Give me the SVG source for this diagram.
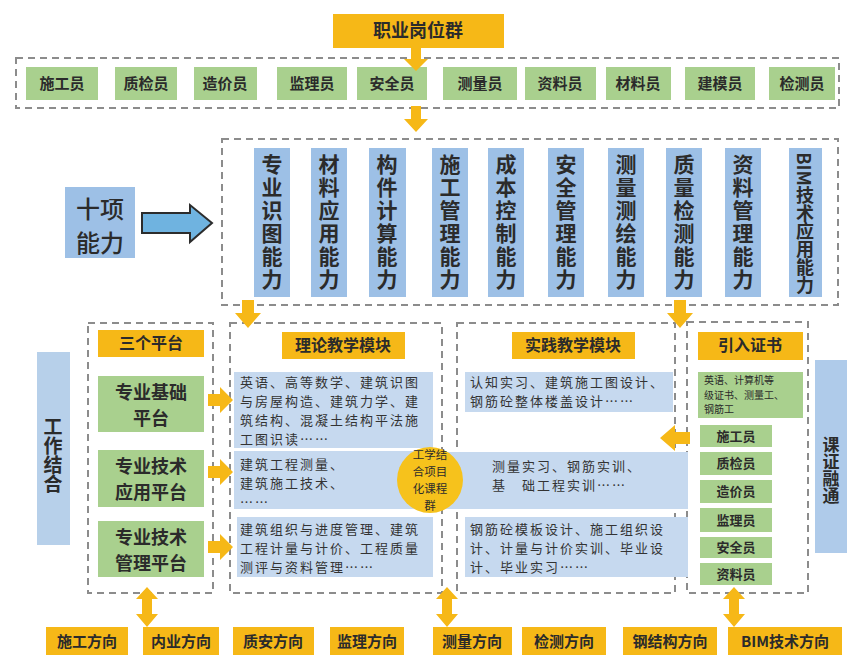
<svg xmlns="http://www.w3.org/2000/svg" width="849" height="659" viewBox="0 0 849 659">
<style>
text{font-family:"Noto Sans CJK SC","Noto Sans",sans-serif;fill:#2b2b2b}
.dash{fill:none;stroke:#8c8c8c;stroke-width:2;stroke-dasharray:7 5}
.org{fill:#F6B817}
.grn{fill:#A9D08E}
.blu{fill:#9DC0E6}
.lblu{fill:#C6D9EF}
.t15{font-size:15px;font-weight:700;text-anchor:middle}
.t16{font-size:16px;font-weight:700;text-anchor:middle}
.t19{font-size:18px;font-weight:700;text-anchor:middle}
.tb{font-size:13px;text-anchor:start;fill:#333;letter-spacing:2px}
.vt{writing-mode:vertical-rl;text-anchor:middle;font-weight:700}
.arr{fill:#F6B817}
</style>
<rect width="849" height="659" fill="#ffffff"/>

<!-- dashed containers -->
<g id="containers">
<rect class="dash" x="16" y="58" width="823" height="50"/>
<rect class="dash" x="222" y="139" width="616" height="166"/>
<rect class="dash" x="88" y="323" width="125" height="270"/>
<rect class="dash" x="230" y="323" width="212" height="270"/>
<rect class="dash" x="457" y="323" width="218" height="270"/>
<rect class="dash" x="687" y="322" width="121" height="271"/>
</g>

<g id="title">
<rect class="org" x="333" y="14" width="171" height="34"/>
<text class="t16" x="418" y="37" style="font-size:18px">职业岗位群</text>
</g>

<g id="occupations">
<rect class="grn" x="26" y="67" width="72" height="33"/><text class="t15" x="62" y="89">施工员</text>
<rect class="grn" x="115" y="67" width="62" height="33"/><text class="t15" x="146" y="89">质检员</text>
<rect class="grn" x="194" y="67" width="63" height="33"/><text class="t15" x="225" y="89">造价员</text>
<rect class="grn" x="277" y="67" width="70" height="33"/><text class="t15" x="312" y="89">监理员</text>
<rect class="grn" x="357" y="67" width="70" height="33"/><text class="t15" x="392" y="89">安全员</text>
<rect class="grn" x="443" y="67" width="74" height="33"/><text class="t15" x="480" y="89">测量员</text>
<rect class="grn" x="525" y="67" width="71" height="33"/><text class="t15" x="560" y="89">资料员</text>
<rect class="grn" x="606" y="67" width="65" height="33"/><text class="t15" x="638" y="89">材料员</text>
<rect class="grn" x="685" y="67" width="70" height="33"/><text class="t15" x="720" y="89">建模员</text>
<rect class="grn" x="769" y="67" width="66" height="33"/><text class="t15" x="802" y="89">检测员</text>
</g>

<g id="ten-abilities">
<rect class="blu" x="65" y="187" width="70" height="71"/>
<text x="100" y="218" style="font-size:24px;text-anchor:middle;font-weight:500">十项</text>
<text x="100" y="252" style="font-size:24px;text-anchor:middle;font-weight:500">能力</text>
</g>

<g id="abilities">
<rect class="blu" x="254" y="148" width="36" height="149"/><text class="vt" x="272" y="223" style="font-size:21px;letter-spacing:2px">专业识图能力</text>
<rect class="blu" x="311" y="148" width="36" height="149"/><text class="vt" x="329" y="223" style="font-size:21px;letter-spacing:2px">材料应用能力</text>
<rect class="blu" x="369" y="148" width="37" height="149"/><text class="vt" x="387" y="223" style="font-size:21px;letter-spacing:2px">构件计算能力</text>
<rect class="blu" x="432" y="148" width="36" height="149"/><text class="vt" x="450" y="223" style="font-size:21px;letter-spacing:2px">施工管理能力</text>
<rect class="blu" x="488" y="148" width="36" height="149"/><text class="vt" x="506" y="223" style="font-size:21px;letter-spacing:2px">成本控制能力</text>
<rect class="blu" x="548" y="148" width="36" height="149"/><text class="vt" x="566" y="223" style="font-size:21px;letter-spacing:2px">安全管理能力</text>
<rect class="blu" x="608" y="148" width="36" height="149"/><text class="vt" x="626" y="223" style="font-size:21px;letter-spacing:2px">测量测绘能力</text>
<rect class="blu" x="666" y="148" width="36" height="149"/><text class="vt" x="684" y="223" style="font-size:21px;letter-spacing:2px">质量检测能力</text>
<rect class="blu" x="725" y="148" width="36" height="149"/><text class="vt" x="743" y="223" style="font-size:21px;letter-spacing:2px">资料管理能力</text>
<rect class="blu" x="789" y="148" width="33" height="149"/><text class="vt" x="805" y="223" style="font-size:18px">BIM技术应用能力</text>
</g>

<g id="work-combine">
<rect fill="#B7D0EA" x="37" y="352" width="33" height="193"/>
<text class="vt" x="53" y="455" style="font-size:19px">工作结合</text>
</g>

<g id="platforms">
<rect class="org" x="98" y="330" width="106" height="27"/><text class="t16" x="151" y="349">三个平台</text>
<rect class="grn" x="98" y="376" width="106" height="56"/><text class="t19" x="151" y="399">专业基础</text><text class="t19" x="151" y="425">平台</text>
<rect class="grn" x="98" y="450" width="106" height="57"/><text class="t19" x="151" y="473">专业技术</text><text class="t19" x="151" y="499">应用平台</text>
<rect class="grn" x="98" y="521" width="106" height="56"/><text class="t19" x="151" y="544">专业技术</text><text class="t19" x="151" y="570">管理平台</text>
</g>

<g id="theory">
<rect class="org" x="282" y="332" width="123" height="27"/><text class="t16" x="343" y="351">理论教学模块</text>
<rect class="lblu" x="234" y="372" width="199" height="76"/>
<text class="tb" x="240" y="387">英语、高等数学、建筑识图</text>
<text class="tb" x="240" y="406">与房屋构造、建筑力学、建</text>
<text class="tb" x="240" y="425">筑结构、混凝土结构平法施</text>
<text class="tb" x="240" y="444">工图识读……</text>
<rect class="lblu" x="234" y="451" width="210" height="58"/>
<text class="tb" x="240" y="469">建筑工程测量、</text>
<text class="tb" x="240" y="488">建筑施工技术、</text>
<text class="tb" x="240" y="507">……</text>
<rect class="lblu" x="237" y="517" width="196" height="60"/>
<text class="tb" x="240" y="534">建筑组织与进度管理、建筑</text>
<text class="tb" x="240" y="553">工程计量与计价、工程质量</text>
<text class="tb" x="240" y="572">测评与资料管理……</text>
</g>

<g id="practice">
<rect class="org" x="512" y="332" width="123" height="27"/><text class="t16" x="573" y="351">实践教学模块</text>
<rect class="lblu" x="465" y="372" width="208" height="40"/>
<text class="tb" x="470" y="387">认知实习、建筑施工图设计、</text>
<text class="tb" x="470" y="406">钢筋砼整体楼盖设计……</text>
<rect class="lblu" x="444" y="452" width="244" height="57"/>
<text class="tb" x="492" y="471">测量实习、钢筋实训、</text>
<text class="tb" x="492" y="490">基　础工程实训……</text>
<rect class="lblu" x="465" y="517" width="223" height="60"/>
<text class="tb" x="470" y="534">钢筋砼模板设计、施工组织设</text>
<text class="tb" x="470" y="553">计、计量与计价实训、毕业设</text>
<text class="tb" x="470" y="572">计、毕业实习……</text>
</g>

<g id="course-group">
<circle cx="430" cy="480" r="33" fill="#F6C21C"/>
<text x="430" y="459" style="font-size:11.5px;text-anchor:middle">工学结</text>
<text x="430" y="476" style="font-size:11.5px;text-anchor:middle">合项目</text>
<text x="430" y="493" style="font-size:11.5px;text-anchor:middle">化课程</text>
<text x="430" y="510" style="font-size:11.5px;text-anchor:middle">群</text>
</g>

<g id="certificates">
<rect class="org" x="698" y="332" width="105" height="28"/><text class="t16" x="750" y="351">引入证书</text>
<rect class="grn" x="698" y="372" width="105" height="46"/>
<text x="704" y="384" style="font-size:10px">英语、计算机等</text>
<text x="704" y="398.5" style="font-size:10px">级证书、测量工、</text>
<text x="704" y="413" style="font-size:10px">钢筋工</text>
<rect class="grn" x="700" y="425" width="72" height="22"/><text class="t15" x="736" y="441" style="font-size:13px">施工员</text>
<rect class="grn" x="700" y="452" width="72" height="23"/><text class="t15" x="736" y="468" style="font-size:13px">质检员</text>
<rect class="grn" x="700" y="480" width="72" height="23"/><text class="t15" x="736" y="496" style="font-size:13px">造价员</text>
<rect class="grn" x="700" y="508" width="72" height="24"/><text class="t15" x="736" y="525" style="font-size:13px">监理员</text>
<rect class="grn" x="700" y="537" width="72" height="21"/><text class="t15" x="736" y="552" style="font-size:13px">安全员</text>
<rect class="grn" x="700" y="563" width="72" height="22"/><text class="t15" x="736" y="579" style="font-size:13px">资料员</text>
</g>

<g id="course-cert">
<rect fill="#AFCBEA" x="815" y="360" width="32" height="193"/>
<text class="vt" x="831" y="470" style="font-size:17px">课证融通</text>
</g>

<g id="directions">
<rect class="org" x="46" y="627" width="82" height="28"/><text class="t15" x="87" y="647">施工方向</text>
<rect class="org" x="143" y="627" width="76" height="28"/><text class="t15" x="181" y="647">内业方向</text>
<rect class="org" x="233" y="627" width="81" height="28"/><text class="t15" x="273" y="647">质安方向</text>
<rect class="org" x="330" y="627" width="74" height="28"/><text class="t15" x="367" y="647">监理方向</text>
<rect class="org" x="433" y="627" width="79" height="28"/><text class="t15" x="472" y="647">测量方向</text>
<rect class="org" x="522" y="627" width="84" height="28"/><text class="t15" x="564" y="647">检测方向</text>
<rect class="org" x="623" y="627" width="94" height="28"/><text class="t15" x="670" y="647">钢结构方向</text>
<rect class="org" x="728" y="627" width="114" height="28"/><text class="t15" x="785" y="647">BIM技术方向</text>
</g>

<g id="connectors">
<polygon class="arr" points="411,48 421,48 421,59 428,59 416,71 404,59 411,59"/>
<polygon class="arr" points="411,106 421,106 421,119 428,119 416,132 404,119 411,119"/>
<polygon class="arr" points="242,300 254,300 254,313 261,313 248,328 235,313 242,313"/>
<polygon class="arr" points="674,300 686,300 686,313 693,313 680,328 667,313 674,313"/>
<polygon class="arr" points="208,394 220,394 220,387 233,400 220,413 220,406 208,406"/>
<polygon class="arr" points="208,466 220,466 220,459 233,472 220,485 220,478 208,478"/>
<polygon class="arr" points="208,541 220,541 220,534 233,547 220,560 220,553 208,553"/>
<polygon class="arr" points="690,432 675,432 675,425 660,438 675,451 675,444 690,444"/>
<polygon points="142,213 190,213 190,205 212,223 190,242 190,233 142,233" fill="#6FB3E0" stroke="#2c2c2c" stroke-width="2"/>
<polygon class="arr" points="147,587 158,599 152,599 152,614 158,614 147,627 136,614 142,614 142,599 136,599"/>
<polygon class="arr" points="447,587 458,599 452,599 452,614 458,614 447,627 436,614 442,614 442,599 436,599"/>
<polygon class="arr" points="734,587 745,599 739,599 739,614 745,614 734,627 723,614 729,614 729,599 723,599"/>
</g>
</svg>
